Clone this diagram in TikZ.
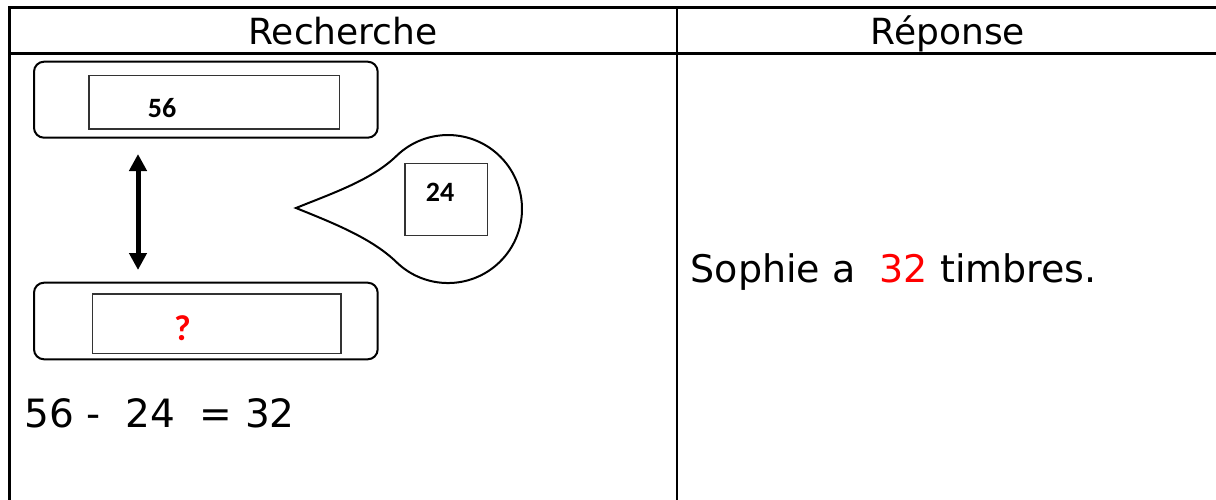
\documentclass[tikz,border=0pt]{standalone}
\usepackage{fontspec}
\setmainfont{DejaVu Sans}
\newfontfamily\numfont{Carlito}
\usetikzlibrary{arrows.meta}
\begin{document}
\begin{tikzpicture}[x=1pt,y=-1pt,
  gridline/.style={line width=2.2pt,black},
  outerbox/.style={draw,line width=2pt,rounded corners=10pt,inner sep=0pt},
  innerbox/.style={draw=black!80,line width=1.2pt,inner sep=0pt},
  numlabel/.style={font=\numfont\bfseries\fontsize{28}{30}\selectfont,inner sep=0pt},
  headlabel/.style={font=\fontsize{36}{40}\selectfont,inner sep=0pt,anchor=base},
  bigtext/.style={font=\fontsize{38}{40}\selectfont,inner sep=0pt,anchor=base west},
  dblarrow/.style={line width=5pt,{Triangle[width=17pt,length=17pt]}-{Triangle[width=17pt,length=17pt]}},
  bubble/.style={draw,line width=2pt,line join=miter},
]
\useasboundingbox (0,0) rectangle (1216,499);
% table grid
\coordinate (tl) at (9.5,7.5);
\coordinate (tr) at (1220,7.5);
\coordinate (hl) at (9.5,53.5);
\coordinate (hr) at (1220,53.5);
\coordinate (bl) at (9.5,502);
\coordinate (dt) at (677,7.5);
\coordinate (db) at (677,502);
\draw[gridline] (tr) -- (tl) -- (bl);
\draw[gridline] (hl) -- (hr);
\draw[gridline] (dt) -- (db);
% headers
\node[headlabel] (h1) at (343,44) {Recherche};
\node[headlabel] (h2) at (948,44) {Réponse};
% boxes
\node[outerbox,minimum width=343.7pt,minimum height=76pt] (topbox) at (205.85,99.7) {};
\node[innerbox,minimum width=250.3pt,minimum height=53.3pt] (topin) at (214.15,102.35) {};
\node[numlabel] (n56) at (162,108) {56};
\node[outerbox,minimum width=343.7pt,minimum height=76.6pt] (botbox) at (205.85,321) {};
\node[innerbox,minimum width=248.3pt,minimum height=59.3pt] (botin) at (216.85,323.65) {};
\node[numlabel,text=red,font=\numfont\bfseries\fontsize{36}{38}\selectfont] (nq) at (182.5,328) {?};
% arrow
\coordinate (atop) at (138,154);
\coordinate (abot) at (138,270);
\draw[dblarrow] (atop) -- (abot);
% callout bubble
\coordinate (tip) at (296,208);
\coordinate (cc) at (448,209);
\coordinate (up) at (396.6,155.8);
\coordinate (lo) at (396.6,262.2);
\draw[bubble] (tip) .. controls (333,193) and (371.6,180) .. (up)
  arc[start angle=-134,end angle=134,radius=74]
  .. controls (371.6,238) and (333,223) .. (tip) -- cycle;
\node[innerbox,minimum width=82.3pt,minimum height=72.4pt] (sq) at (446.15,199.5) {};
\node[numlabel] (n24) at (440,192.5) {24};
% texts
\node[bigtext,font=\fontsize{39}{42}\selectfont] (eq) at (24.5,427.5) {56 -\ \ 24\ \ = 32};
\node[bigtext] (ans) at (690.5,282.7) {Sophie a\ \ \textcolor{red}{32} timbres.};
\end{tikzpicture}
\end{document}
